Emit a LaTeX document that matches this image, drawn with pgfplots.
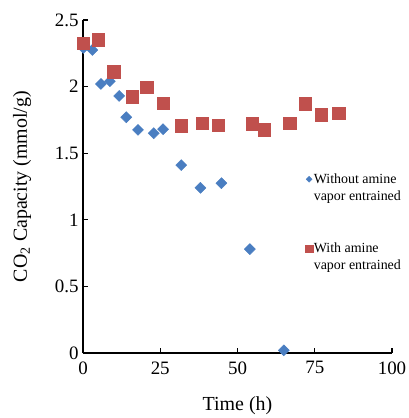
\documentclass[border=0pt]{standalone}
\usepackage{fontspec}
\setmainfont{Liberation Serif}
\usepackage{pgfplots}
\pgfplotsset{compat=1.18}
\definecolor{dblue}{RGB}{74,126,193}
\definecolor{dred}{RGB}{192,80,77}

\begin{document}
\begin{tikzpicture}
\begin{axis}[
  scale only axis,
  width=309bp, height=333bp,
  xmin=0, xmax=100, ymin=0, ymax=2.5,
  xtick={0,25,50,75,100},
  ytick={0,0.5,...,2.5},
  yticklabels={0,0.5,1,1.5,2,2.5},
  axis x line=bottom, axis y line=left,
  axis line style={-, line width=1.1pt},
  tick align=inside,
  major tick length=5bp,
  tick style={line width=1.1pt, black},
  /pgf/number format/assume math mode=true,
  ticklabel style={font=\fontsize{19}{19}\selectfont},
  xticklabel style={yshift=-5bp},
  yticklabel style={xshift=-1bp},
  xlabel={Time (h)},
  ylabel={CO\textsubscript{2} Capacity (mmol/g)},
  label style={font=\fontsize{20}{20}\selectfont},
  xlabel style={at={(axis description cs:0.5,-0.158)}, anchor=center},
  ylabel style={at={(axis description cs:-0.197,0.5)}, anchor=center},
  clip=false,
  legend style={draw=none, fill=none, at={(0.71,0.548)}, anchor=north west,
    font=\fontsize{14}{17}\selectfont, row sep=39bp,
    legend cell align=left, nodes={align=left, inner sep=1bp}},
  legend image code/.code={\draw[#1] plot coordinates {(0.1cm,8.5bp)};},
]
\addplot[only marks, mark=square*, mark size=3.9bp, color=dblue,
  mark options={rotate=45, draw=dblue, fill=dblue},
  legend image post style={mark size=2.1bp}] coordinates {
 (0.1,2.29)(3,2.275)(5.8,2.02)(8.7,2.04)(11.7,1.93)(14.0,1.77)(17.8,1.675)
 (22.9,1.65)(25.9,1.68)(31.8,1.41)(38.0,1.24)(44.8,1.275)(54.0,0.78)(65.0,0.02)
};
\addlegendentry{Without amine\\vapor entrained}
\addplot[only marks, mark=square*, mark size=6.3bp, color=dred,
  mark options={draw=dred, fill=dred},
  legend image post style={mark size=3.6bp}] coordinates {
 (0.1,2.325)(4.9,2.35)(10.0,2.11)(15.9,1.925)(20.7,1.995)(25.9,1.875)(31.8,1.705)
 (38.6,1.725)(43.8,1.71)(54.8,1.72)(58.6,1.675)(66.8,1.725)(71.9,1.87)(77.1,1.79)(82.8,1.80)
};
\addlegendentry{With amine\\vapor entrained}
\end{axis}
\pgfresetboundingbox
\path[use as bounding box] (current axis.south west) ++(-83bp,-65bp) rectangle ++(409bp,418bp);
\end{tikzpicture}
\end{document}
